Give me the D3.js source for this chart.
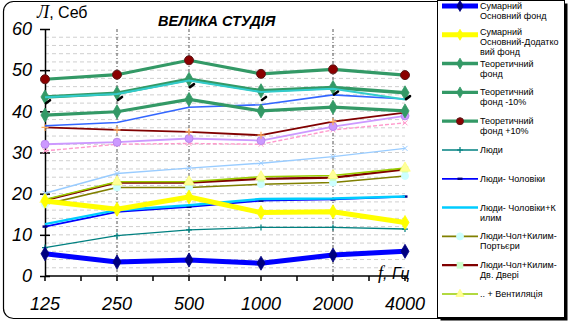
<!DOCTYPE html>
<html><head><meta charset="utf-8">
<script src="https://cdn.jsdelivr.net/npm/d3@7"></script>
<style>
html,body{margin:0;padding:0;background:#fff;}
svg{display:block;}
text{font-family:"Liberation Sans",Arial,sans-serif;}
</style></head>
<body>
<svg id="chart" width="572" height="323"></svg>
<script>
// ---- data ----
const categories = ["125", "250", "500", "1000", "2000", "4000"];
const yTicks = [0, 10, 20, 30, 40, 50, 60];
const titleText = "ВЕЛИКА СТУДІЯ";

const sumBasic        = [5.4, 3.4, 3.9, 3.1, 5.1, 6.0];
const sumBasicExtra   = [18.2, 16.2, 19.2, 15.4, 15.6, 13.0];
const theory          = [43.5, 44.4, 47.8, 45.0, 45.8, 44.5];
const theoryMinus10   = [39.1, 39.9, 42.9, 40.1, 41.0, 40.1];
const theoryPlus10    = [47.8, 48.9, 52.4, 49.1, 50.2, 48.8];
const people          = [6.9, 9.8, 11.2, 11.8, 11.8, 11.4];
const peopleMen       = [12.0, 15.6, 16.8, 18.3, 18.6, 19.3];
const peopleCarpet    = [12.6, 16.0, 17.2, 18.7, 18.8, 19.3];
const peopleCurtains  = [17.4, 21.5, 21.5, 22.3, 22.7, 24.3];
const peopleDoors     = [18.4, 22.7, 22.7, 23.6, 23.9, 25.9];
const ventilation     = [18.6, 22.9, 22.9, 24.1, 24.4, 26.2];
// series drawn without legend entries
const lightBlueSeries = [20.1, 24.9, 26.2, 27.4, 29.0, 31.0];
const pinkSeries      = [30.4, 32.0, 32.2, 32.0, 35.5, 37.2];
const violetSeries    = [32.0, 32.5, 33.4, 32.9, 36.3, 38.9];
const redUpperSeries  = [36.1, 35.5, 35.0, 34.2, 37.5, 39.7];
const blueUpperSeries = [36.5, 37.3, 41.0, 41.6, 44.0, 43.0];
const cyanSeries      = [43.4, 44.2, 47.5, 44.7, 45.5, 42.9];
const blackMarks      = [42.7, 43.5, 46.6, 43.5, 44.8, 43.7];

const legendLabels = [
  ["Сумарний", "Основний фонд"],
  ["Сумарний", "Основний-Додатко", "вий фонд"],
  ["Теоретичний", "фонд"],
  ["Теоретичний", "фонд -10%"],
  ["Теоретичний", "фонд +10%"],
  ["Люди"],
  ["Люди- Чоловіки"],
  ["Люди- Чоловіки+К", "илим"],
  ["Люди-Чол+Килим-", "Портьєри"],
  ["Люди-Чол+Килим-", "Дв. Двері"],
  [".. + Вентиляція"]
];

// ---- setup ----
const svg = d3.select("#chart");
const x = d3.scalePoint().domain(categories).range([45, 405]);
const y = d3.scaleLinear().domain([0, 60]).range([276, 29]);

// outer frame
svg.append("rect").attr("x", 3.5).attr("y", 1.5).attr("width", 562).attr("height", 317)
  .attr("rx", 10).attr("fill", "#fff").attr("stroke", "#000").attr("stroke-width", 1.2);

// horizontal grid
const gridVals = d3.range(2, 60, 2);
svg.append("g").selectAll("line").data(gridVals).join("line")
  .attr("x1", x("125")).attr("x2", x("4000"))
  .attr("y1", d => y(d)).attr("y2", d => y(d))
  .attr("stroke", "#cfcfcf").attr("stroke-width", 1).attr("stroke-dasharray", "4,3");

// vertical grid
const vGrid = ["250", "500", "2000"];
svg.append("g").selectAll("line").data(vGrid).join("line")
  .attr("x1", d => x(d)).attr("x2", d => x(d))
  .attr("y1", y(60)).attr("y2", y(0))
  .attr("stroke", "#555").attr("stroke-width", 1).attr("stroke-dasharray", "3,2,1,2");

// axes
const yAxis = d3.axisLeft(y).tickValues(yTicks).tickSize(0).tickFormat(d3.format("d"));
const gy = svg.append("g").attr("transform", `translate(${x("125")},0)`).call(yAxis);
gy.select(".domain").attr("stroke", "#000").attr("stroke-width", 1.5);
gy.selectAll(".tick text").attr("x", -13).attr("font-size", 18).attr("font-style", "italic").attr("fill", "#000");
gy.selectAll(".tick").append("line").attr("x1", -5).attr("x2", 5).attr("stroke", "#000").attr("stroke-width", 1.5);

svg.append("line").attr("x1", x("125")).attr("x2", x("4000") + 2).attr("y1", y(0)).attr("y2", y(0))
  .attr("stroke", "#000").attr("stroke-width", 1.5);
const step = x.step();
const tickPos = [];
categories.forEach((c, i) => { tickPos.push(x(c)); if (i < categories.length - 1) tickPos.push(x(c) + step / 2); });
svg.append("g").selectAll("line").data(tickPos).join("line")
  .attr("x1", d => d).attr("x2", d => d).attr("y1", y(0)).attr("y2", y(0) + 5)
  .attr("stroke", "#000").attr("stroke-width", 1.5);
svg.append("g").selectAll("text").data(categories).join("text")
  .attr("x", d => x(d)).attr("y", 310).attr("text-anchor", "middle")
  .attr("font-size", 18).attr("font-style", "italic").text(d => d);

// labels
const yl = svg.append("text").attr("x", 37).attr("y", 18).attr("font-size", 16);
yl.append("tspan").attr("font-family", "Liberation Serif, Times New Roman, serif").attr("font-style", "italic").attr("font-size", 18).text("Л");
yl.append("tspan").text(", Себ");
svg.append("text").attr("x", 158).attr("y", 26).attr("font-size", 14.5).attr("font-weight", "bold")
  .attr("font-style", "italic").text(titleText);
const xl = svg.append("text").attr("x", 378).attr("y", 279).attr("font-size", 16).attr("font-style", "italic");
xl.append("tspan").attr("font-family", "Liberation Serif, Times New Roman, serif").attr("font-size", 18).text("f");
xl.append("tspan").text(", Гц");

// ---- series ----
const line = d3.line().x((d, i) => x(categories[i])).y(d => y(d));

function drawMarker(g, type, cx, cy, fill, stroke, size) {
  if (type === "diamond") {
    g.append("path").attr("d", d3.symbol(d3.symbolDiamond, size * size * 0.7)())
      .attr("transform", `translate(${cx},${cy})`).attr("fill", fill).attr("stroke", stroke).attr("stroke-width", 0.8);
  } else if (type === "circle") {
    g.append("circle").attr("cx", cx).attr("cy", cy).attr("r", size / 2).attr("fill", fill).attr("stroke", stroke).attr("stroke-width", 1);
  } else if (type === "square") {
    g.append("rect").attr("x", cx - size / 2).attr("y", cy - size / 2).attr("width", size).attr("height", size).attr("fill", fill).attr("stroke", stroke).attr("stroke-width", 0.6);
  } else if (type === "triangle") {
    g.append("path").attr("d", d3.symbol(d3.symbolTriangle, size * size * 0.6)())
      .attr("transform", `translate(${cx},${cy})`).attr("fill", fill).attr("stroke", stroke).attr("stroke-width", 0.6);
  } else if (type === "plus") {
    g.append("path").attr("d", `M${cx - size / 2},${cy}H${cx + size / 2}M${cx},${cy - size / 2}V${cy + size / 2}`)
      .attr("stroke", stroke).attr("stroke-width", 1.2).attr("fill", "none");
  } else if (type === "cross") {
    const s = size / 2;
    g.append("path").attr("d", `M${cx - s},${cy - s}L${cx + s},${cy + s}M${cx - s},${cy + s}L${cx + s},${cy - s}`)
      .attr("stroke", stroke).attr("stroke-width", 1).attr("fill", "none");
  } else if (type === "dash") {
    g.append("rect").attr("x", cx - size / 2).attr("y", cy - 1.2).attr("width", size).attr("height", 2.4).attr("fill", fill);
  } else if (type === "slash") {
    g.append("path").attr("d", `M${cx + 1},${cy + 3}L${cx + 5},${cy}`)
      .attr("stroke", fill).attr("stroke-width", 2.6).attr("stroke-linecap", "round");
  }
}

const seriesDefs = [
  { data: lightBlueSeries, color: "#99ccff", width: 1.4, marker: "cross", mFill: "#99ccff", mStroke: "#99ccff", mSize: 5 },
  { data: pinkSeries, color: "#ff99cc", width: 1.4, dash: "4,2", marker: "cross", mFill: "#ff99cc", mStroke: "#ff99cc", mSize: 5 },
  { data: violetSeries, color: "#cc99ff", width: 1.8, marker: "circle", mFill: "#cc99ff", mStroke: "#bb88ee", mSize: 8 },
  { data: redUpperSeries, color: "#800000", width: 1.8, marker: "plus", mFill: "#ffb060", mStroke: "#ffb060", mSize: 7 },
  { data: blueUpperSeries, color: "#3366ff", width: 1.6, marker: null },
  { data: people, color: "#008080", width: 1.4, marker: "plus", mStroke: "#008080", mSize: 6, legend: 5 },
  { data: peopleMen, color: "#0000ff", width: 1.8, marker: "dash", mFill: "#000080", mSize: 5, legend: 6 },
  { data: peopleCarpet, color: "#00ccff", width: 2.5, marker: null, legend: 7 },
  { data: peopleCurtains, color: "#808000", width: 1.6, marker: "circle", mFill: "#ccffff", mStroke: "#ccffff", mSize: 7, legend: 8 },
  { data: peopleDoors, color: "#800000", width: 2.2, marker: "square", mFill: "#ccffcc", mStroke: "#ccffcc", mSize: 6, legend: 9 },
  { data: ventilation, color: "#99cc00", width: 1.6, marker: "triangle", mFill: "#ffff99", mStroke: "#ffff66", mSize: 9, legend: 10 },
  { data: theoryMinus10, color: "#339966", width: 3.2, marker: "diamond", mFill: "#339966", mStroke: "#339966", mSize: 9, legend: 3 },
  { data: theory, color: "#339966", width: 3.5, marker: "diamond", mFill: "#339966", mStroke: "#339966", mSize: 9, legend: 2 },
  { data: cyanSeries, color: "#33cccc", width: 2, marker: null },
  { data: theoryPlus10, color: "#339966", width: 3.2, marker: "circle", mFill: "#8b0000", mStroke: "#5a1a1a", mSize: 9, legend: 4 },
  { data: blackMarks, color: null, marker: "slash", mFill: "#000" },
  { data: sumBasicExtra, color: "#ffff00", width: 5, marker: "diamond", mFill: "#ffff00", mStroke: "#ffff00", mSize: 9, legend: 1 },
  { data: sumBasic, color: "#0000ff", width: 5, marker: "diamond", mFill: "#000080", mStroke: "#000080", mSize: 9, legend: 0 }
];

seriesDefs.forEach(s => {
  const g = svg.append("g");
  if (s.color) {
    g.append("path").attr("d", line(s.data)).attr("fill", "none").attr("stroke", s.color)
      .attr("stroke-width", s.width).attr("stroke-linejoin", "round")
      .attr("stroke-dasharray", s.dash || null);
  }
  if (s.marker) {
    s.data.forEach((v, i) => drawMarker(g, s.marker, x(categories[i]), y(v), s.mFill, s.mStroke, s.mSize));
  }
});

// ---- legend ----
const lg = svg.append("g");
lg.append("rect").attr("x", 440.5).attr("y", 3.5).attr("width", 127).attr("height", 317).attr("fill", "#000");
lg.append("rect").attr("x", 437.5).attr("y", 0.5).attr("width", 127).attr("height", 317)
  .attr("fill", "#fff").attr("stroke", "#000").attr("stroke-width", 1);
const legendSeries = seriesDefs.filter(s => s.legend !== undefined).sort((a, b) => a.legend - b.legend);
legendSeries.forEach((s, i) => {
  const ly = 6 + i * 28.8;
  lg.append("line").attr("x1", 442).attr("x2", 478).attr("y1", ly).attr("y2", ly)
    .attr("stroke", s.color).attr("stroke-width", s.width);
  if (s.marker) drawMarker(lg, s.marker, 460, ly, s.mFill, s.mStroke, Math.min(s.mSize, 7));
  const lines = legendLabels[i];
  const lift = lines.length > 2 ? 3 : 0;
  lines.forEach((t, j) => {
    lg.append("text").attr("x", 480).attr("y", ly + 3 - lift + j * 10).attr("font-size", 9)
      .attr("fill", "#000").text(t);
  });
});
</script>
</body></html>
